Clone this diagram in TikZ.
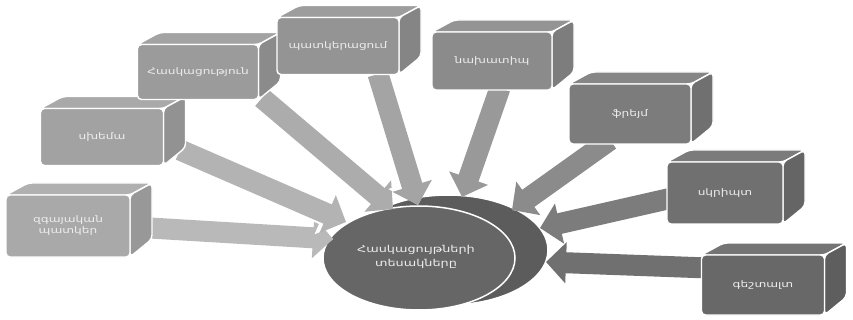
\documentclass[tikz,border=0pt]{standalone}
\usepackage{fontspec}
\setmainfont[FakeStretch=1.35]{DejaVu Sans}
\usetikzlibrary{arrows.meta,calc}
\definecolor{bA}{HTML}{A9A9A9}
\definecolor{bB}{HTML}{A2A2A2}
\definecolor{bC}{HTML}{9B9B9B}
\definecolor{bD}{HTML}{949494}
\definecolor{bE}{HTML}{8B8B8B}
\definecolor{bF}{HTML}{7C7C7C}
\definecolor{bG}{HTML}{707070}
\definecolor{bH}{HTML}{686868}
\definecolor{aA}{HTML}{B9B9B9}
\definecolor{aB}{HTML}{B3B3B3}
\definecolor{aC}{HTML}{ACACAC}
\definecolor{aD}{HTML}{A4A4A4}
\definecolor{aE}{HTML}{999999}
\definecolor{aF}{HTML}{8B8B8B}
\definecolor{aG}{HTML}{7C7C7C}
\definecolor{aH}{HTML}{707070}
\definecolor{ellF}{HTML}{666666}
\definecolor{ellB}{HTML}{5C5C5C}
\definecolor{txt}{HTML}{EDEDED}
\tikzset{
  holder/.style={draw=none, inner sep=0pt, outer sep=0pt},
  facedraw/.style={draw=white, line width=1.4pt, rounded corners=4pt, line join=round},
  label/.style={text=txt, font=\fontsize{9}{11}\selectfont, align=center},
  arrowout/.style={draw=white, line width=25pt, -{Triangle[width=46pt,length=24pt]}},
  arrowin/.style={draw=#1, line width=21pt, -{Triangle[width=40pt,length=20pt]}},
}
\newcommand\cubebox[6]{% name, center, width, height, colour, text
  \node[holder, minimum width=#3pt, minimum height=#4pt] (#1) at (#2) {};
  \filldraw[facedraw, fill=#5!92!white] (#1.north west) -- (#1.north east) -- ++(22,-12) -- ($(#1.north west)+(22,-12)$) -- cycle;
  \filldraw[facedraw, fill=#5!90!black] (#1.north east) -- ++(22,-12) -- ++(0,{#4-6}) -- (#1.south east) -- cycle;
  \filldraw[facedraw, fill=#5] (#1.north west) rectangle (#1.south east);
  \node[label] at (#1.center) {#6};
}
\begin{document}
\begin{tikzpicture}[x=1pt,y=-1pt]
\useasboundingbox (0,0) rectangle (853,320);
\fill[white] (0,0) rectangle (853,320);

% centre
\filldraw[fill=ellB, draw=white, line width=1.5pt] (448,250) ellipse [x radius=100, y radius=55];
\filldraw[fill=ellF, draw=white, line width=1.5pt] (419,258) ellipse [x radius=96, y radius=52];
\node[holder, minimum width=192pt, minimum height=104pt] (c) at (419,258) {};
\node[label, font=\fontsize{9.5}{14}\selectfont] at (416,257) {Հասկացույթների\\տեսակները};

% arrow ends
\coordinate (s1) at (150,228); \coordinate (t1) at (333,239);
\coordinate (s2) at (180,150); \coordinate (t2) at (346,222);
\coordinate (s3) at (262,98);  \coordinate (t3) at (393,209);
\coordinate (s4) at (378,74);  \coordinate (t4) at (418,205);
\coordinate (s5) at (500,88);  \coordinate (t5) at (462,197);
\coordinate (s6) at (610,140); \coordinate (t6) at (512,210);
\coordinate (s7) at (672,198); \coordinate (t7) at (540,228);
\coordinate (s8) at (708,268); \coordinate (t8) at (546,262);

\foreach \i/\c in {1/aA,2/aB,3/aC,4/aD,5/aE,6/aF,7/aG,8/aH}{
  \draw[arrowout] (s\i) -- (t\i);
  \draw[arrowin=\c] (s\i) -- (t\i);
}

% boxes
\cubebox{b1}{68,226}{124}{62}{bA}{զգայական\\պատկեր}
\cubebox{b2}{102,137}{123}{57}{bB}{սխեմա}
\cubebox{b3}{198,72}{121}{55}{bC}{Հասկացություն}
\cubebox{b4}{338,46}{122}{57}{bD}{պատկերացում}
\cubebox{b5}{492,61}{120}{58}{bE}{նախատիպ}
\cubebox{b6}{630,114}{122}{60}{bF}{ֆրեյմ}
\cubebox{b7}{725,193}{116}{62}{bG}{սկրիպտ}
\cubebox{b8}{763,285}{123}{60}{bH}{գեշտալտ}
\end{tikzpicture}
\end{document}
